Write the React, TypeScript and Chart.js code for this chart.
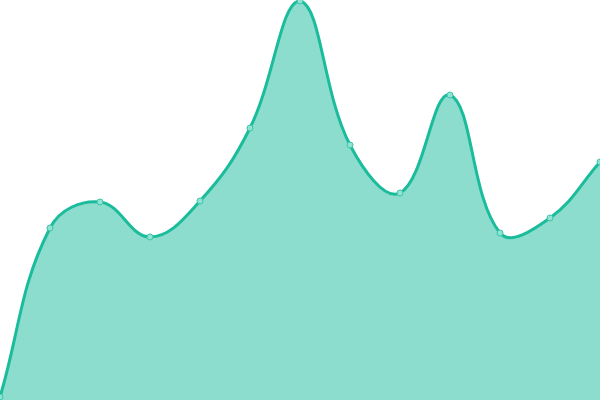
import React, { useEffect, useRef } from "react";
import { Chart, registerables } from "chart.js";

Chart.register(...registerables);

const labels = ["1", "2", "3", "4", "5", "6", "7", "8", "9", "10", "11", "12", "13"];
const values = [0.75, 43, 49.5, 40.75, 49.75, 68, 99.75, 63.75, 51.75, 76.25, 41.75, 45.5, 59.5];

export default function App() {
  const ref = useRef<HTMLCanvasElement | null>(null);
  useEffect(() => {
    document.body.style.margin = "0";
    if (!ref.current) return;
    const chart = new Chart(ref.current, {
      type: "line",
      data: {
        labels,
        datasets: [
          {
            data: values,
            fill: "origin",
            borderColor: "#1abc9c",
            backgroundColor: "rgba(26,188,156,0.5)",
            borderWidth: 3,
            tension: 0.4,
            pointRadius: 3,
            pointBorderWidth: 1,
            pointBackgroundColor: "#8fe3d2",
            pointBorderColor: "#3cc4a8",
          },
        ],
      },
      options: {
        animation: false,
        responsive: true,
        maintainAspectRatio: false,
        layout: { padding: 0, autoPadding: false },
        plugins: { legend: { display: false }, tooltip: { enabled: false } },
        scales: {
          x: { display: false, offset: false },
          y: { display: false, min: 0, max: 100 },
        },
      },
    });
    return () => chart.destroy();
  }, []);
  return (
    <div style={{ position: "fixed", left: 0, top: 0, width: 600, height: 400 }}>
      <canvas ref={ref} />
    </div>
  );
}
